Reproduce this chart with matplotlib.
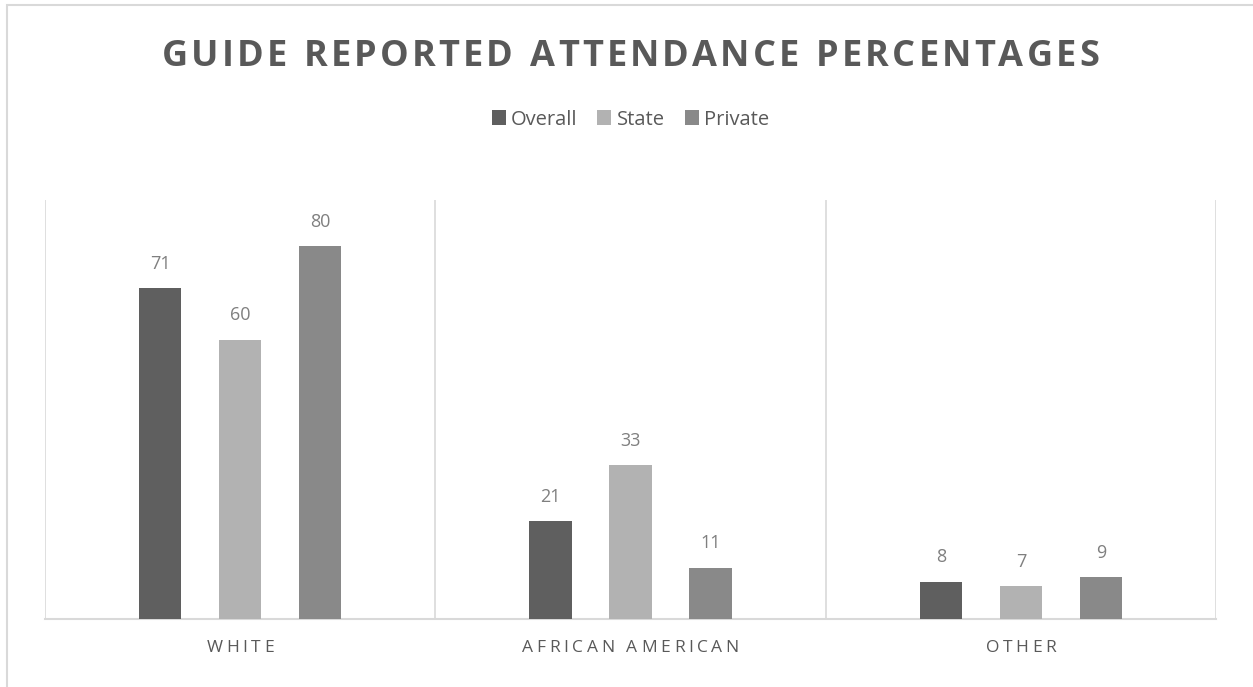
import numpy as np
import matplotlib.pyplot as plt
from matplotlib.patches import Patch, Rectangle

# Datos
categorias = ['WHITE', 'AFRICAN AMERICAN', 'OTHER']
series = ['Overall', 'State', 'Private']
overall = [71, 21, 8]
state = [60, 33, 7]
private = [80, 11, 9]

colores = ['#5f5f5f', '#b2b2b2', '#898989']
gris_texto = '#595959'
gris_linea = '#d9d9d9'

plt.rcParams['font.family'] = ['Open Sans', 'DejaVu Sans']

fig = plt.figure(figsize=(12.53, 6.87), dpi=100)
ax = fig.add_axes([0.0359, 0.099, 0.9346, 0.61])

x = np.arange(len(categorias))
ancho = 0.108
desp = 0.205
for i, (vals, col) in enumerate(zip([overall, state, private], colores)):
    pos = x + (i - 1) * desp
    barras = ax.bar(pos, vals, width=ancho, color=col, zorder=3)
    ax.bar_label(barras, padding=11, fontsize=13, color='#7f7f7f')

ax.set_xlim(-0.5, len(categorias) - 0.5)
ax.set_ylim(0, 90)
for b in np.arange(-0.5, len(categorias), 1.0):
    ax.axvline(b, color=gris_linea, lw=1.2, zorder=1)
for lado in ['top', 'right', 'left']:
    ax.spines[lado].set_visible(False)
ax.spines['bottom'].set_color(gris_linea)
ax.spines['bottom'].set_linewidth(1.5)
ax.set_yticks([])
ax.set_xticks([])


def texto_espaciado(fig, xc, y, s, espacio, **kw):
    # matplotlib no tiene letter-spacing: se colocan letra por letra
    r = fig.canvas.get_renderer()
    anchos = []
    for ch in s:
        if ch == ' ':
            t = fig.text(0, 0, 'n', **kw)
            w = t.get_window_extent(r).width * 0.45
        else:
            t = fig.text(0, 0, ch, **kw)
            w = t.get_window_extent(r).width
        t.remove()
        anchos.append(w)
    W = fig.bbox.width
    total = sum(anchos) + espacio * (len(s) - 1)
    px = xc * W - total / 2
    for ch, w in zip(s, anchos):
        fig.text(px / W, y, ch, ha='left', va='center', **kw)
        px += w + espacio


texto_espaciado(fig, 0.503, 0.917, 'GUIDE REPORTED ATTENDANCE PERCENTAGES', 3.15,
                fontsize=26, fontweight='bold', color=gris_texto)

centros_cat = [0.0359 + 0.9346 * (c + 0.5) / len(categorias) for c in x]
for c, nombre in zip(centros_cat, categorias):
    texto_espaciado(fig, c, 0.057, nombre, 3.6, fontsize=12.5, color=gris_texto)

handles = [Patch(facecolor=c) for c in colores]
fig.legend(handles, series, loc='center', bbox_to_anchor=(0.503, 0.826), ncol=3,
           frameon=False, fontsize=14.5, labelcolor=gris_texto,
           handlelength=0.7, handleheight=0.7, handletextpad=0.25, columnspacing=1.0)

# Borde del gráfico
fig.add_artist(Rectangle((6.5 / 1253, -0.5), 1.5, 1.5 - 4.5 / 687 + 0.0,
                         transform=fig.transFigure, fill=False, ec=gris_linea, lw=1.5))

fig.savefig('out.png', dpi=100)
